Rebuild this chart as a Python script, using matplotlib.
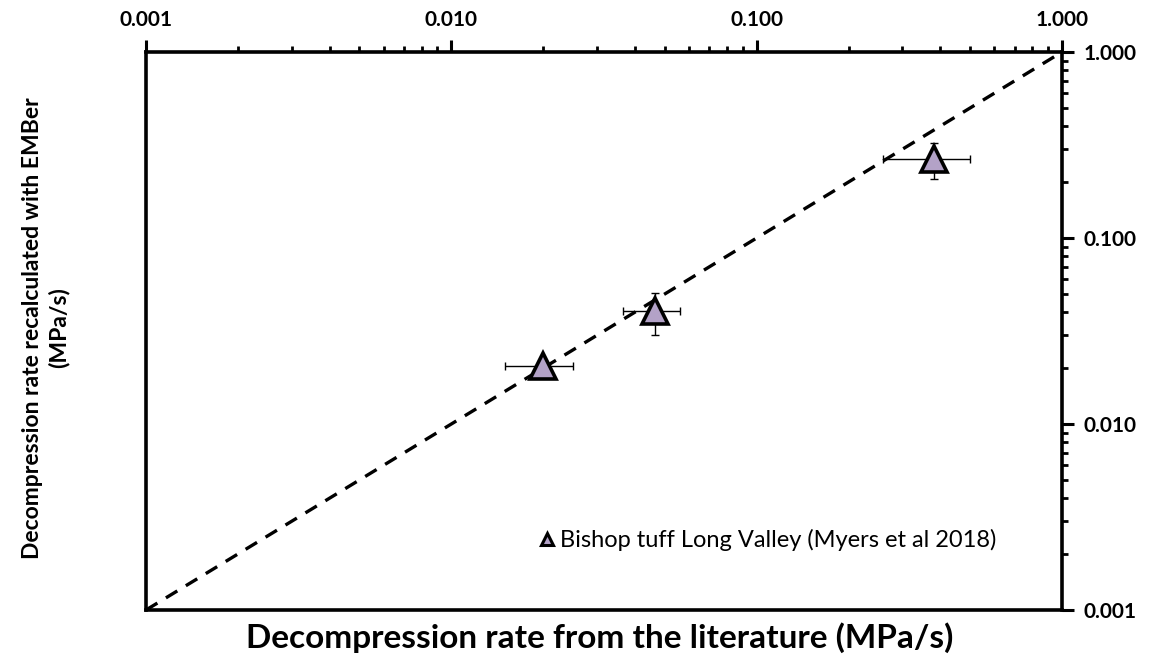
import numpy as np
import matplotlib
matplotlib.use("Agg")
import matplotlib.pyplot as plt
from matplotlib.ticker import FixedLocator, LogLocator, NullFormatter, FixedFormatter

plt.rcParams["font.family"] = ["Lato", "DejaVu Sans"]

# Bishop tuff Long Valley (Myers et al 2018)
lit_rate = [0.0200, 0.0463, 0.380]
lit_err = [0.0050, 0.0099, 0.120]
ember_rate = [0.0205, 0.0405, 0.266]
ember_err = [0.0010, 0.0103, 0.059]
tick_vals = [0.001, 0.01, 0.1, 1.0]
tick_labels = ["0.001", "0.010", "0.100", "1.000"]
legend_label = "Bishop tuff Long Valley (Myers et al 2018)"

W, H = 1158, 670
fig = plt.figure(figsize=(W / 100, H / 100), dpi=100)
ax = fig.add_axes([146 / W, 1 - 610 / H, 916 / W, 558 / H])
ax.set_xscale("log")
ax.set_yscale("log")
ax.set_xlim(0.001, 1)
ax.set_ylim(0.001, 1)

# 1:1 line
ax.plot([0.001, 1], [0.001, 1], ls=(0, (4, 3)), color="black", lw=2.4, zorder=2)

ax.errorbar(lit_rate, ember_rate, xerr=lit_err, yerr=ember_err, fmt="none",
            ecolor="black", elinewidth=1.0, capsize=3, capthick=1.0, zorder=3)
ax.plot(lit_rate, ember_rate, ls="none", marker="^", ms=19,
        mfc="#b3a2c7", mec="black", mew=2.6, zorder=4)

# legend handle
ax.plot([], [], ls="none", marker="^", ms=9, mfc="#b3a2c7", mec="black",
        mew=2.2, label=legend_label)
ax.legend(loc="center left", bbox_to_anchor=(526 / W, 1 - 540 / H),
          bbox_transform=fig.transFigure, frameon=False,
          fontsize=17, handletextpad=0.15, handlelength=0.8, borderpad=0)

for s in ax.spines.values():
    s.set_linewidth(2.6)

ax.xaxis.set_ticks_position("top")
ax.yaxis.set_ticks_position("right")
for axis in (ax.xaxis, ax.yaxis):
    axis.set_major_locator(FixedLocator(tick_vals))
    axis.set_major_formatter(FixedFormatter(tick_labels))
    axis.set_minor_locator(LogLocator(base=10, subs=np.arange(2, 10)))
    axis.set_minor_formatter(NullFormatter())
ax.tick_params(which="major", direction="out", length=8.5, width=2.2,
               labelsize=15, pad=7)
ax.tick_params(which="minor", direction="out", length=4.5, width=2.0)
for lab in ax.get_xticklabels() + ax.get_yticklabels():
    lab.set_fontweight("bold")

fig.text(600 / W, 1 - 638 / H, "Decompression rate from the literature (MPa/s)",
         ha="center", va="center", fontsize=24, fontweight="bold")
fig.text(46 / W, 1 - 328 / H, "Decompression rate recalculated with EMBer\n(MPa/s)",
         ha="center", va="center", rotation=90, fontsize=16.5, fontweight="bold",
         linespacing=1.25)

fig.savefig("out.png", dpi=100)
